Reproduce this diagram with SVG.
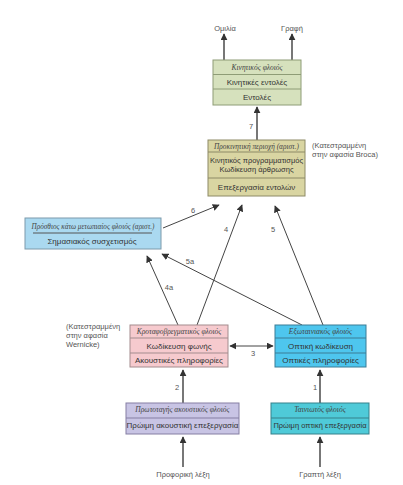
<svg xmlns="http://www.w3.org/2000/svg" width="403" height="485" viewBox="0 0 403 485">
<style>
.t{font-family:"Liberation Serif",serif;font-style:italic;font-size:7.5px;fill:#444;text-anchor:middle}
.s{font-family:"Liberation Sans",Arial,sans-serif;font-size:8px;fill:#333;text-anchor:middle}
.n{font-family:"Liberation Sans",Arial,sans-serif;font-size:7.5px;fill:#555}
.l{font-family:"Liberation Sans",Arial,sans-serif;font-size:7.5px;fill:#555;text-anchor:middle}
.c line{stroke:#444;stroke-width:1;marker-end:url(#ah)}
.c line.v{stroke:#555;stroke-width:1.6}
</style>
<defs>
<marker id="ah" viewBox="0 0 10 10" refX="9" refY="5" markerWidth="7" markerHeight="7" markerUnits="userSpaceOnUse" orient="auto-start-reverse">
<path d="M0,0 L10,5 L0,10 z" fill="#333"/>
</marker>
</defs>
<rect width="403" height="485" fill="#fff"/>

<g class="c" id="connectors">
<line class="v" x1="224" y1="60" x2="224" y2="34"/>
<line class="v" x1="292" y1="60" x2="292" y2="34"/>
<line class="v" x1="257" y1="140" x2="257" y2="107"/>
<line x1="163" y1="228" x2="219" y2="205"/>
<line x1="197" y1="325" x2="242" y2="205"/>
<line x1="178" y1="325" x2="147" y2="256"/>
<line x1="323" y1="325" x2="275" y2="206"/>
<line x1="302" y1="325" x2="162" y2="254"/>
<line x1="250" y1="346" x2="230" y2="346"/>
<line x1="250" y1="346" x2="273" y2="346"/>
<line class="v" x1="183" y1="403" x2="183" y2="370"/>
<line class="v" x1="320" y1="403" x2="320" y2="370"/>
<line class="v" x1="183" y1="467" x2="183" y2="437"/>
<line class="v" x1="320" y1="467" x2="320" y2="437"/>
</g>

<g id="labels">
<text class="l" x="225" y="31">Ομιλία</text>
<text class="l" x="292" y="31">Γραφή</text>
<text class="l" x="251" y="129">7</text>
<text class="l" x="193" y="213">6</text>
<text class="l" x="226" y="232">4</text>
<text class="l" x="273" y="232">5</text>
<text class="l" x="190" y="264">5a</text>
<text class="l" x="169" y="290">4a</text>
<text class="l" x="253" y="356">3</text>
<text class="l" x="177" y="390">2</text>
<text class="l" x="315" y="390">1</text>
<text class="l" x="183" y="477">Προφορική λέξη</text>
<text class="l" x="320" y="477">Γραπτή λέξη</text>
<text class="n" x="312" y="148">(Κατεστραμμένη</text>
<text class="n" x="312" y="157">στην αφασία Broca)</text>
<text class="n" x="66" y="329">(Κατεστραμμένη</text>
<text class="n" x="66" y="338">στην αφασία</text>
<text class="n" x="66" y="347">Wernicke)</text>
</g>

<g id="motor">
<rect x="213" y="60" width="88" height="45" fill="#d6e1bd" stroke="#8e9c76" stroke-width="1"/>
<line x1="213" y1="74.5" x2="301" y2="74.5" stroke="#8e9c76"/>
<line x1="213" y1="89" x2="301" y2="89" stroke="#8e9c76"/>
<text class="t" x="257" y="70">Κινητικός φλοιός</text>
<text class="s" x="257" y="85">Κινητικές εντολές</text>
<text class="s" x="257" y="100">Εντολές</text>
</g>

<g id="premotor">
<rect x="208" y="140" width="97" height="56" fill="#d9d5a2" stroke="#8d8a66" stroke-width="1"/>
<line x1="208" y1="152" x2="305" y2="152" stroke="#8d8a66"/>
<line x1="208" y1="178" x2="305" y2="178" stroke="#8d8a66"/>
<text class="t" x="256.5" y="149" style="font-size:7.3px">Προκινητική περιοχή (αριστ.)</text>
<text class="s" x="256.5" y="163" style="font-size:7.5px">Κινητικός προγραμματισμός</text>
<text class="s" x="256.5" y="172" style="font-size:7.5px">Κωδίκευση άρθρωσης</text>
<text class="s" x="256.5" y="190">Επεξεργασία εντολών</text>
</g>

<g id="frontal">
<rect x="25" y="218" width="136" height="31" fill="#aad9f0" stroke="#7d9aab" stroke-width="1"/>
<line x1="33" y1="233" x2="152" y2="233" stroke="#555"/>
<text class="t" x="93" y="229" style="font-size:7.2px">Πρόσθιος κάτω μετωπιαίος φλοιός (αριστ.)</text>
<text class="s" x="92" y="244">Σημασιακός συσχετισμός</text>
</g>

<g id="temporoparietal">
<rect x="130" y="325" width="98" height="42" fill="#f6cace" stroke="#a38c8e" stroke-width="1"/>
<line x1="130" y1="338" x2="228" y2="338" stroke="#a38c8e"/>
<line x1="130" y1="353" x2="228" y2="353" stroke="#a38c8e"/>
<text class="t" x="179" y="334">Κροταφοβρεγματικός φλοιός</text>
<text class="s" x="179" y="349">Κωδίκευση φωνής</text>
<text class="s" x="179" y="363">Ακουστικές πληροφορίες</text>
</g>

<g id="extrastriate">
<rect x="275" y="325" width="91" height="42" fill="#4ec6ee" stroke="#3a7d96" stroke-width="1"/>
<line x1="275" y1="338" x2="366" y2="338" stroke="#3a7d96"/>
<line x1="275" y1="353" x2="366" y2="353" stroke="#3a7d96"/>
<text class="t" x="320.5" y="334">Εξωταινιακός φλοιός</text>
<text class="s" x="320.5" y="349">Οπτική κωδίκευση</text>
<text class="s" x="320.5" y="363">Οπτικές πληροφορίες</text>
</g>

<g id="auditory">
<rect x="126" y="403" width="113" height="31" fill="#c8c4e4" stroke="#857fa3" stroke-width="1"/>
<line x1="126" y1="418" x2="239" y2="418" stroke="#857fa3"/>
<text class="t" x="182.5" y="412">Πρωτοταγής ακουστικός φλοιός</text>
<text class="s" x="182.5" y="428">Πρώιμη ακουστική επεξεργασία</text>
</g>

<g id="striate">
<rect x="271" y="403" width="98" height="31" fill="#4fcad8" stroke="#36818b" stroke-width="1"/>
<line x1="271" y1="418" x2="369" y2="418" stroke="#36818b"/>
<text class="t" x="320" y="412">Ταινιωτός φλοιός</text>
<text class="s" x="320" y="428" style="font-size:7.5px">Πρώιμη οπτική επεξεργασία</text>
</g>
</svg>
